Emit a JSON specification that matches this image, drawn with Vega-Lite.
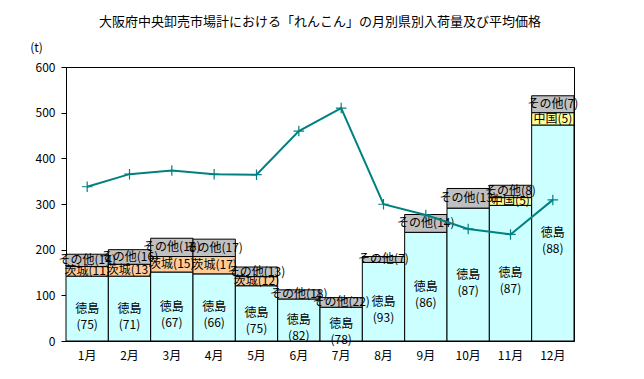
{
  "$schema": "https://vega.github.io/schema/vega-lite/v6.json",
  "autosize": "none",
  "width": 508,
  "height": 274,
  "padding": {"left": 66, "top": 67, "right": 70, "bottom": 38},
  "background": "white",
  "view": {"stroke": "black", "strokeWidth": 1},
  "config": {
    "font": "Noto Sans CJK JP",
    "axis": {"labelFont": "Noto Sans CJK JP", "titleFont": "Noto Sans CJK JP", "labelFontSize": 12, "labelColor": "black", "domainColor": "black", "tickColor": "black", "grid": false, "titleFontWeight": "normal", "titleFontSize": 12, "titleColor": "black"}
  },
  "title": {"text": "大阪府中央卸売市場計における「れんこん」の月別県別入荷量及び平均価格", "fontSize": 13, "fontWeight": "normal", "font": "Noto Sans CJK JP", "anchor": "middle", "frame": "group", "offset": 12, "color": "black"},
  "datasets": {
    "bars": [
      {"month": "1月", "pref": "徳島", "o": 1, "t": 142, "label": "徳島\n(75)"},
      {"month": "1月", "pref": "茨城", "o": 2, "t": 21, "label": "茨城(11)"},
      {"month": "1月", "pref": "その他", "o": 3, "t": 27, "label": "その他(14)"},
      {"month": "2月", "pref": "徳島", "o": 1, "t": 142, "label": "徳島\n(71)"},
      {"month": "2月", "pref": "茨城", "o": 2, "t": 26, "label": "茨城(13)"},
      {"month": "2月", "pref": "その他", "o": 3, "t": 32, "label": "その他(16)"},
      {"month": "3月", "pref": "徳島", "o": 1, "t": 151, "label": "徳島\n(67)"},
      {"month": "3月", "pref": "茨城", "o": 2, "t": 34, "label": "茨城(15)"},
      {"month": "3月", "pref": "その他", "o": 3, "t": 40, "label": "その他(18)"},
      {"month": "4月", "pref": "徳島", "o": 1, "t": 147, "label": "徳島\n(66)"},
      {"month": "4月", "pref": "茨城", "o": 2, "t": 38, "label": "茨城(17)"},
      {"month": "4月", "pref": "その他", "o": 3, "t": 38, "label": "その他(17)"},
      {"month": "5月", "pref": "徳島", "o": 1, "t": 121, "label": "徳島\n(75)"},
      {"month": "5月", "pref": "茨城", "o": 2, "t": 20, "label": "茨城(12)"},
      {"month": "5月", "pref": "その他", "o": 3, "t": 21, "label": "その他(13)"},
      {"month": "6月", "pref": "徳島", "o": 1, "t": 92, "label": "徳島\n(82)"},
      {"month": "6月", "pref": "その他", "o": 3, "t": 20, "label": "その他(18)"},
      {"month": "7月", "pref": "徳島", "o": 1, "t": 74, "label": "徳島\n(78)"},
      {"month": "7月", "pref": "その他", "o": 3, "t": 21, "label": "その他(22)"},
      {"month": "8月", "pref": "徳島", "o": 1, "t": 172, "label": "徳島\n(93)"},
      {"month": "8月", "pref": "その他", "o": 3, "t": 13, "label": "その他(7)"},
      {"month": "9月", "pref": "徳島", "o": 1, "t": 238, "label": "徳島\n(86)"},
      {"month": "9月", "pref": "その他", "o": 3, "t": 39, "label": "その他(14)"},
      {"month": "10月", "pref": "徳島", "o": 1, "t": 291, "label": "徳島\n(87)"},
      {"month": "10月", "pref": "その他", "o": 3, "t": 43, "label": "その他(13)"},
      {"month": "11月", "pref": "徳島", "o": 1, "t": 297, "label": "徳島\n(87)"},
      {"month": "11月", "pref": "中国", "o": 2, "t": 17, "label": "中国(5)"},
      {"month": "11月", "pref": "その他", "o": 3, "t": 27, "label": "その他(8)"},
      {"month": "12月", "pref": "徳島", "o": 1, "t": 473, "label": "徳島\n(88)"},
      {"month": "12月", "pref": "中国", "o": 2, "t": 27, "label": "中国(5)"},
      {"month": "12月", "pref": "その他", "o": 3, "t": 37, "label": "その他(7)"}
    ],
    "price": [
      {"month": "1月", "yen": 563},
      {"month": "2月", "yen": 609},
      {"month": "3月", "yen": 622},
      {"month": "4月", "yen": 609},
      {"month": "5月", "yen": 607},
      {"month": "6月", "yen": 766},
      {"month": "7月", "yen": 850},
      {"month": "8月", "yen": 499},
      {"month": "9月", "yen": 460},
      {"month": "10月", "yen": 409},
      {"month": "11月", "yen": 389},
      {"month": "12月", "yen": 515}
    ]
  },
  "encoding": {
    "x": {
      "field": "month", "type": "ordinal",
      "scale": {"domain": ["1月","2月","3月","4月","5月","6月","7月","8月","9月","10月","11月","12月"], "paddingInner": 0, "paddingOuter": 0},
      "axis": {"title": null, "labelAngle": 0, "ticks": false, "labelPadding": 9, "domain": true}
    }
  },
  "layer": [
    {
      "data": {"name": "bars"},
      "transform": [
        {"stack": "t", "groupby": ["month"], "sort": [{"field": "o", "order": "ascending"}], "as": ["y0", "y1"]},
        {"calculate": "(datum.y0 + datum.y1) / 2", "as": "ymid"}
      ],
      "layer": [
        {
          "mark": {"type": "bar", "stroke": "black", "strokeWidth": 1},
          "encoding": {
            "y": {"field": "y0", "type": "quantitative", "scale": {"domain": [0, 600], "nice": false},
              "axis": {"values": [0,100,200,300,400,500,600], "title": "(t)", "titleAngle": 0, "titleX": -30, "titleY": -20, "titleAlign": "center", "titleBaseline": "middle", "tickSize": 5, "labelPadding": 6}},
            "y2": {"field": "y1"},
            "color": {"field": "pref", "type": "nominal", "legend": null,
              "scale": {"domain": ["徳島", "茨城", "中国", "その他"], "range": ["#CCFFFF", "#FFCC99", "#FFFF99", "#C0C0C0"]}}
          }
        },
        {
          "mark": {"type": "text", "fontSize": 12, "color": "black", "lineBreak": "\n", "lineHeight": 16, "baseline": "middle"},
          "encoding": {
            "y": {"field": "ymid", "type": "quantitative"},
            "text": {"field": "label"}
          }
        }
      ]
    },
    {
      "data": {"name": "price"},
      "layer": [
        {
          "mark": {"type": "line", "color": "#008080", "strokeWidth": 2},
          "encoding": {
            "y": {"field": "yen", "type": "quantitative", "scale": {"domain": [0, 1000], "nice": false},
              "axis": {"orient": "right", "values": [0,200,400,600,800,1000], "title": "(円)", "titleAngle": 0, "titleX": 9, "titleY": -22, "titleAlign": "center", "titleBaseline": "middle", "tickSize": 5, "labelPadding": 6}}
          }
        },
        {
          "mark": {"type": "point", "shape": "M-1,0H1M0,-1V1", "filled": false, "stroke": "#008080", "strokeWidth": 1.2, "size": 110, "opacity": 1},
          "encoding": {
            "y": {"field": "yen", "type": "quantitative", "axis": null}
          }
        }
      ]
    }
  ],
  "resolve": {"scale": {"y": "independent"}}
}
